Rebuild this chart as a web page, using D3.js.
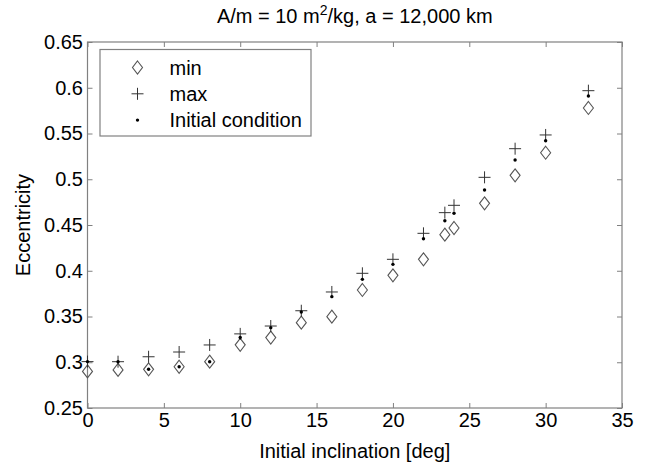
<!DOCTYPE html>
<html>
<head>
<meta charset="utf-8">
<script src="https://cdn.jsdelivr.net/npm/d3@7"></script>
<style>
  body { margin: 0; background: #fff; }
  text { font-family: "Liberation Sans", Arial, sans-serif; }
</style>
</head>
<body>
<div id="chart"></div>
<script>
// inclination [deg] and eccentricity values
let inclination = [0, 2, 4, 6, 8, 10, 12, 14, 16, 18, 20, 22, 23.4, 24, 26, 28, 30, 32.8];
let eMin  = [0.290, 0.2916, 0.2923, 0.2951, 0.3006, 0.319, 0.327, 0.3433, 0.3498, 0.379, 0.395, 0.4125, 0.4394, 0.4467, 0.4737, 0.5043, 0.529, 0.5779];
let eMax  = [0.3007, 0.3006, 0.306, 0.3112, 0.3189, 0.331, 0.3396, 0.3563, 0.3768, 0.3972, 0.4125, 0.4409, 0.4635, 0.4715, 0.5021, 0.5334, 0.5484, 0.5968];
let eInit = [0.3007, 0.3006, 0.2923, 0.2951, 0.3006, 0.327, 0.3378, 0.3549, 0.3717, 0.3906, 0.407, 0.435, 0.4547, 0.4628, 0.4883, 0.521, 0.5421, 0.591];

let xTicks = [0, 5, 10, 15, 20, 25, 30, 35];
let yTicks = [0.25, 0.3, 0.35, 0.4, 0.45, 0.5, 0.55, 0.6, 0.65];
let legendLabels = ["min", "max", "Initial condition"];

let W = 647, H = 469;
let margin = {top: 42, bottom: 61, left: 87.5, right: 25};
let width = W - margin.left - margin.right;
let height = H - margin.top - margin.bottom;
let fs = 20;

let svg = d3.select("#chart").append("svg")
    .attr("width", W)
    .attr("height", H);

let x = d3.scaleLinear().domain([0, 35]).range([0, width]);
let y = d3.scaleLinear().domain([0.25, 0.65]).range([height, 0]);

let g = svg.append("g").attr("transform", `translate(${margin.left},${margin.top})`);

let axisColor = "#808080";

function styleAxis(sel, labels) {
  sel.select(".domain").remove();
  sel.selectAll(".tick line").attr("stroke", axisColor);
  sel.selectAll(".tick text")
    .attr("fill", labels ? "#000" : "none")
    .attr("font-size", fs);
}

// bottom / left axes with inward ticks
g.append("g")
  .attr("transform", `translate(0,${height})`)
  .call(d3.axisBottom(x).tickValues(xTicks).tickSize(-5).tickPadding(5).tickFormat(d3.format("d")))
  .call(s => styleAxis(s, true));

g.append("g")
  .call(d3.axisLeft(y).tickValues(yTicks).tickSize(-5).tickPadding(4.5).tickFormat(d => String(d)))
  .call(s => styleAxis(s, true));

// top / right ticks
g.append("g")
  .call(d3.axisTop(x).tickValues(xTicks).tickSize(-5).tickFormat(""))
  .call(s => styleAxis(s, false));

g.append("g")
  .attr("transform", `translate(${width},0)`)
  .call(d3.axisRight(y).tickValues(yTicks).tickSize(-5).tickFormat(""))
  .call(s => styleAxis(s, false));

// box
g.append("rect")
  .attr("width", width)
  .attr("height", height)
  .attr("fill", "none")
  .attr("stroke", axisColor)
  .attr("stroke-width", 1.2);

// markers
function diamond(sel) {
  sel.append("path")
    .attr("d", "M0,-6.5L5,0L0,6.5L-5,0Z")
    .attr("fill", "none")
    .attr("stroke", "#555")
    .attr("stroke-width", 1.1);
}
function plus(sel) {
  sel.append("path")
    .attr("d", "M-6,0H6M0,-6V6")
    .attr("fill", "none")
    .attr("stroke", "#333")
    .attr("stroke-width", 1);
}
function dot(sel) {
  sel.append("circle")
    .attr("r", 1.7)
    .attr("fill", "#000");
}

let idx = d3.range(inclination.length);

g.append("g").selectAll("g")
  .data(idx).enter().append("g")
  .attr("transform", i => `translate(${x(inclination[i])},${y(eMin[i])})`)
  .call(diamond);

g.append("g").selectAll("g")
  .data(idx).enter().append("g")
  .attr("transform", i => `translate(${x(inclination[i])},${y(eMax[i])})`)
  .call(plus);

g.append("g").selectAll("g")
  .data(idx).enter().append("g")
  .attr("transform", i => `translate(${x(inclination[i])},${y(eInit[i])})`)
  .call(dot);

// legend
let legend = svg.append("g").attr("transform", "translate(100,49.5)");
legend.append("rect")
  .attr("width", 211)
  .attr("height", 86.5)
  .attr("fill", "#fff")
  .attr("stroke", axisColor)
  .attr("stroke-width", 1.2);

let markers = [diamond, plus, dot];
legendLabels.forEach((lab, i) => {
  let row = legend.append("g").attr("transform", `translate(37.5,${18 + i * 26.3})`);
  row.call(markers[i]);
  row.append("text")
    .attr("x", 32)
    .attr("y", 7)
    .attr("font-size", fs)
    .attr("fill", "#000")
    .text(lab);
});

// title
let title = svg.append("text")
  .attr("x", margin.left + width / 2)
  .attr("y", 23)
  .attr("text-anchor", "middle")
  .attr("font-size", fs)
  .attr("fill", "#000");
title.append("tspan").text("A/m = 10 m");
title.append("tspan").attr("dy", -8).attr("font-size", 14).text("2");
title.append("tspan").attr("dy", 8).text("/kg, a = 12,000 km");

// axis labels
svg.append("text")
  .attr("x", margin.left + width / 2)
  .attr("y", 458)
  .attr("text-anchor", "middle")
  .attr("font-size", fs)
  .attr("fill", "#000")
  .text("Initial inclination [deg]");

svg.append("text")
  .attr("transform", `translate(30,${margin.top + height / 2}) rotate(-90)`)
  .attr("text-anchor", "middle")
  .attr("font-size", fs)
  .attr("fill", "#000")
  .text("Eccentricity");
</script>
</body>
</html>
